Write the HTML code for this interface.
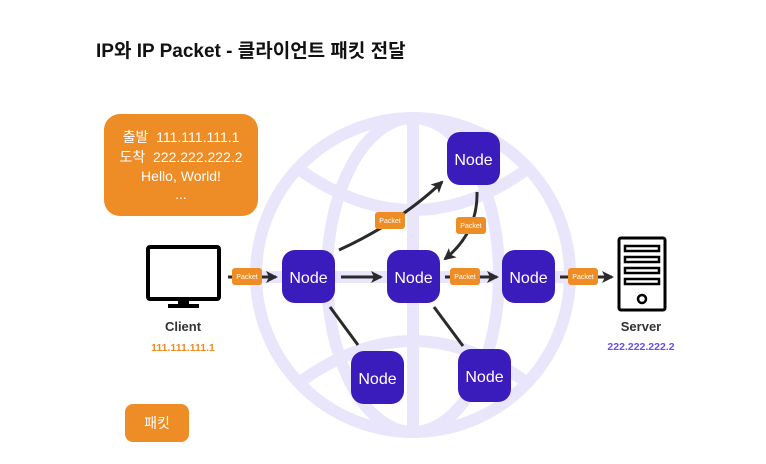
<!DOCTYPE html>
<html><head><meta charset="utf-8"><style>
body{margin:0;background:#fff;}
svg{display:block;font-family:"Liberation Sans","Noto Sans CJK KR",sans-serif;}
</style></head><body>
<svg width="766" height="464" viewBox="0 0 766 464" xmlns="http://www.w3.org/2000/svg">
<defs>
<marker id="ah" markerWidth="12" markerHeight="12" refX="10" refY="6" orient="auto" markerUnits="userSpaceOnUse">
<path d="M0,0 L12,6 L0,12 L3,6 Z" fill="#2a2a2a"/></marker>
</defs>
<text x="96" y="57" font-size="19" font-weight="bold" fill="#111">IP와 IP Packet - 클라이언트 패킷 전달</text>
<g fill="none" stroke="#e9e6fc" stroke-width="12">
<circle cx="413" cy="275" r="157"/>
<ellipse cx="413" cy="275" rx="86" ry="157"/>
<line x1="413" y1="118" x2="413" y2="432"/>
<line x1="256" y1="277" x2="570" y2="277"/>
<path d="M300,170 Q413,250 526,170"/>
<path d="M300,382 Q413,300 526,382"/>
</g>
<rect x="104" y="114" width="154" height="102" rx="16" fill="#ee8c25"/>
<g fill="#fff" font-size="14" text-anchor="middle">
<text x="181" y="142">출발&#160; 111.111.111.1</text>
<text x="181" y="162">도착&#160; 222.222.222.2</text>
<text x="181" y="181">Hello, World!</text>
<text x="181" y="199">...</text>
</g>
<rect x="148" y="247" width="71" height="52" rx="2" fill="#fff" stroke="#000" stroke-width="4"/>
<rect x="178" y="299" width="11" height="6" fill="#000"/>
<rect x="168" y="304" width="31" height="4" fill="#000"/>
<text x="183" y="331" font-size="13" font-weight="bold" fill="#333" text-anchor="middle">Client</text>
<text x="183" y="351" font-size="10.5" font-weight="bold" fill="#ee8c25" text-anchor="middle">111.111.111.1</text>
<rect x="619" y="238" width="46" height="72" rx="2" fill="#fff" stroke="#000" stroke-width="3"/>
<g fill="none" stroke="#000" stroke-width="2.5">
<rect x="625" y="246" width="34" height="5"/><rect x="625" y="257" width="34" height="5"/>
<rect x="625" y="268" width="34" height="5"/><rect x="625" y="279" width="34" height="5"/>
<circle cx="642" cy="299" r="4"/>
</g>
<text x="641" y="331" font-size="13" font-weight="bold" fill="#333" text-anchor="middle">Server</text>
<text x="641" y="350" font-size="10.5" font-weight="bold" fill="#6b4df0" text-anchor="middle">222.222.222.2</text>
<g stroke="#2a2a2a" stroke-width="3" fill="none">
<line x1="228" y1="277" x2="276" y2="277" marker-end="url(#ah)"/>
<line x1="341" y1="277" x2="381" y2="277" marker-end="url(#ah)"/>
<line x1="445" y1="277" x2="497" y2="277" marker-end="url(#ah)"/>
<line x1="560" y1="277" x2="612" y2="277" marker-end="url(#ah)"/>
<path d="M339,250 Q400,222 442,182" marker-end="url(#ah)"/>
<path d="M477,192 Q478,232 445,259" marker-end="url(#ah)"/>
<line x1="330" y1="307" x2="358" y2="345"/>
<line x1="434" y1="307" x2="463" y2="346"/>
</g>
<g font-size="7" fill="#fff" text-anchor="middle">
<rect x="232" y="268" width="30" height="17" rx="3" fill="#ee8c25"/><text x="247" y="279">Packet</text>
<rect x="375" y="212" width="30" height="17" rx="3" fill="#ee8c25"/><text x="390" y="223">Packet</text>
<rect x="456" y="217" width="30" height="17" rx="3" fill="#ee8c25"/><text x="471" y="228">Packet</text>
<rect x="450" y="268" width="30" height="17" rx="3" fill="#ee8c25"/><text x="465" y="279">Packet</text>
<rect x="568" y="268" width="30" height="17" rx="3" fill="#ee8c25"/><text x="583" y="279">Packet</text>
</g>
<g fill="#3a1cbd">
<rect x="282" y="250" width="53" height="53" rx="13"/>
<rect x="387" y="250" width="53" height="53" rx="13"/>
<rect x="502" y="250" width="53" height="53" rx="13"/>
<rect x="447" y="132" width="53" height="53" rx="13"/>
<rect x="351" y="351" width="53" height="53" rx="13"/>
<rect x="458" y="349" width="53" height="53" rx="13"/>
</g>
<g fill="#fff" font-size="16" text-anchor="middle">
<text x="308.5" y="283">Node</text>
<text x="413.5" y="283">Node</text>
<text x="528.5" y="283">Node</text>
<text x="473.5" y="165">Node</text>
<text x="377.5" y="384">Node</text>
<text x="484.5" y="382">Node</text>
</g>
<rect x="125" y="404" width="64" height="38" rx="8" fill="#ee8c25"/>
<text x="157" y="428" font-size="14" fill="#fff" text-anchor="middle">패킷</text>
</svg>
</body></html>
